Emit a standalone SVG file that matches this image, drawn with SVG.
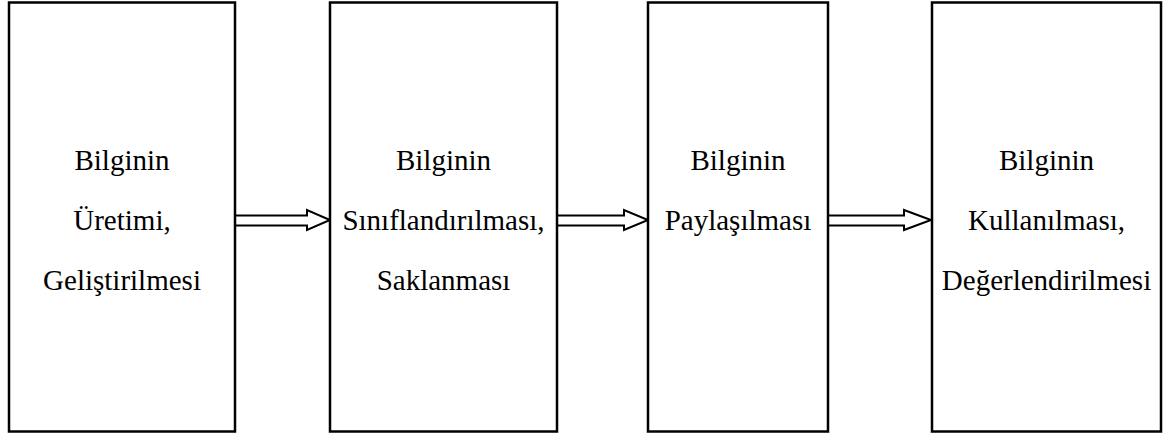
<svg xmlns="http://www.w3.org/2000/svg" width="1168" height="435" viewBox="0 0 1168 435">
  <style>
    .box { fill: #fff; stroke: #000; stroke-width: 2.5; }
    .arrow { fill: #fff; stroke: #000; stroke-width: 2; stroke-linejoin: miter; }
    text { font-family: "Liberation Serif", "Times New Roman", serif; font-size: 29px; fill: #000; text-anchor: middle; }
  </style>
  <rect width="1168" height="435" fill="#fff"/>

  <g id="connectors">
    <polygon class="arrow" points="230,215.5 307,215.5 307,210 330,220 307,230 307,225.5 230,225.5"/>
    <polygon class="arrow" points="555,215.5 624,215.5 624,210 648,220 624,230 624,225.5 555,225.5"/>
    <polygon class="arrow" points="826,215.5 904,215.5 904,210 931,220 904,230 904,225.5 826,225.5"/>
  </g>

  <g id="node-uretim">
    <rect class="box" x="9" y="2.5" width="226" height="429"/>
    <text x="122" y="170">Bilginin</text>
    <text x="122" y="230">Üretimi,</text>
    <text x="122" y="290">Geliştirilmesi</text>
  </g>

  <g id="node-siniflandirma">
    <rect class="box" x="330" y="2.5" width="227" height="429"/>
    <text x="443.5" y="170">Bilginin</text>
    <text x="443.5" y="230">Sınıflandırılması,</text>
    <text x="443.5" y="290">Saklanması</text>
  </g>

  <g id="node-paylasim">
    <rect class="box" x="648" y="2.5" width="180" height="429"/>
    <text x="738" y="170">Bilginin</text>
    <text x="738" y="230">Paylaşılması</text>
  </g>

  <g id="node-kullanim">
    <rect class="box" x="932" y="2.5" width="229" height="429"/>
    <text x="1046.5" y="170">Bilginin</text>
    <text x="1046.5" y="230">Kullanılması,</text>
    <text x="1046.5" y="290">Değerlendirilmesi</text>
  </g>
</svg>
